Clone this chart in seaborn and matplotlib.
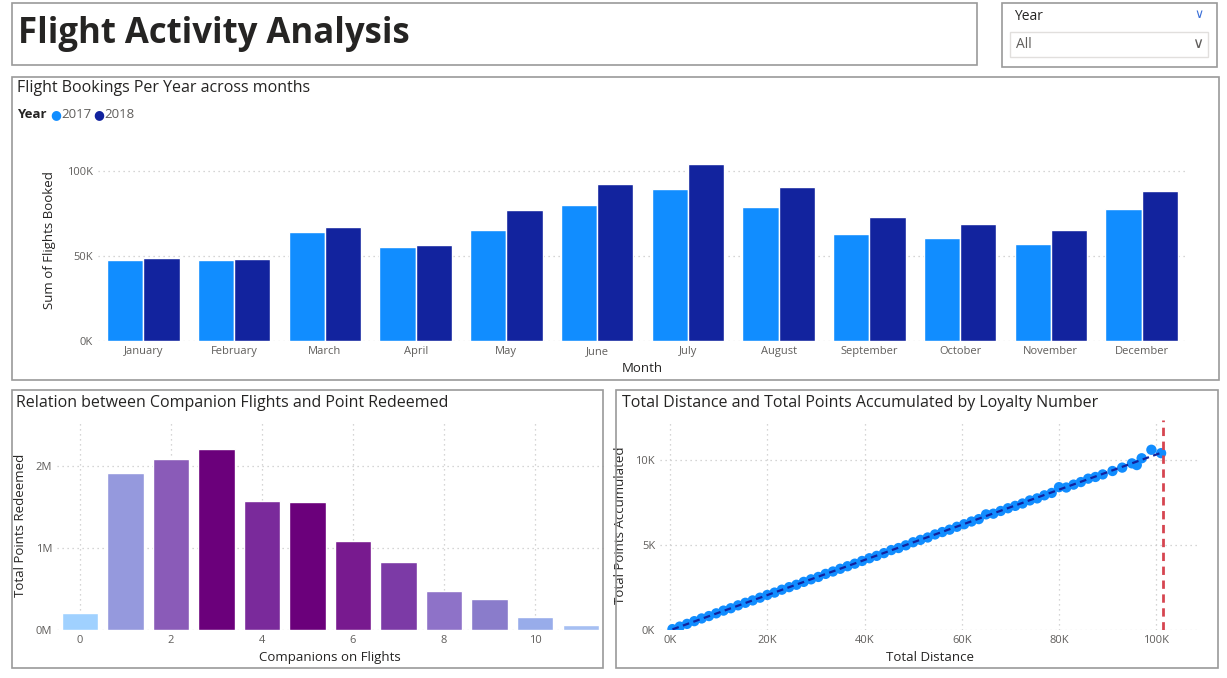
import matplotlib
matplotlib.use("Agg")
import matplotlib.pyplot as plt
import seaborn as sns
import pandas as pd
from matplotlib.patches import Rectangle, FancyBboxPatch
from matplotlib.ticker import FuncFormatter

sns.set_theme(style="white")
plt.rcParams['font.family'] = ['Open Sans', 'DejaVu Sans']

months = ["January","February","March","April","May","June","July","August",
          "September","October","November","December"]
flights_2017 = [47.6, 47.6, 64.1, 55.3, 65.3, 80.0, 89.4, 78.8, 62.9, 60.6, 57.1, 77.6]
flights_2018 = [48.8, 48.2, 67.1, 56.5, 77.1, 92.4, 104.1, 90.6, 72.9, 68.8, 65.3, 88.2]
year_colors = ["#118dff", "#12239e"]

companions = list(range(12))
points_redeemed = [0.21, 1.91, 2.09, 2.21, 1.57, 1.56, 1.09, 0.83, 0.48, 0.38, 0.16, 0.06]
comp_colors = ["#a0d1ff", "#9599dd", "#8a5bb8", "#6b007b", "#7a2a9b", "#6b007b",
               "#781a8f", "#7c3aa6", "#8e72c8", "#8a7ccb", "#98acea", "#a6bff2"]

distance_k = [0.5, 2, 3.5, 5, 6.5, 8, 9.5, 11, 12.5, 14,
              15.5, 17, 18.5, 20, 21.5, 23, 24.5, 26, 27.5, 29,
              30.5, 32, 33.5, 35, 36.5, 38, 39.5, 41, 42.5, 44,
              45.5, 47, 48.5, 50, 51.5, 53, 54.5, 56, 57.5, 59,
              60.5, 62, 63.5, 65, 66.5, 68, 69.5, 71, 72.5, 74,
              75.5, 77, 78.5, 80, 81.5, 83, 84.5, 86, 87.5, 89,
              91, 93, 95, 96, 97, 99, 101]
points_k = [0.05, 0.2, 0.36, 0.52, 0.68, 0.82, 0.98, 1.14, 1.28, 1.45,
            1.6, 1.74, 1.9, 2.06, 2.2, 2.37, 2.52, 2.66, 2.83, 2.98,
            3.12, 3.3, 3.44, 3.6, 3.75, 3.9, 4.06, 4.22, 4.36, 4.52,
            4.7, 4.82, 4.98, 5.16, 5.3, 5.44, 5.62, 5.76, 5.9, 6.07,
            6.22, 6.38, 6.52, 6.8, 6.84, 7.0, 7.16, 7.3, 7.44, 7.62,
            7.74, 7.92, 8.06, 8.4, 8.38, 8.55, 8.7, 8.9, 9.0, 9.15,
            9.35, 9.55, 9.8, 9.7, 10.1, 10.6, 10.4]
max_distance_k = 101.4

W, H = 1227, 678
fig = plt.figure(figsize=(W/100, H/100), dpi=100)
fig.patch.set_facecolor("white")

def axp(l, t, r, b):
    return fig.add_axes([l/W, 1-b/H, (r-l)/W, (b-t)/H])

def box(l, t, r, b):
    fig.patches.append(Rectangle((l/W, 1-b/H), (r-l)/W, (b-t)/H, transform=fig.transFigure,
                                 fill=False, edgecolor="#9a9a9a", linewidth=1.2))

def ftext(x, y, s, **kw):
    fig.text(x/W, 1-y/H, s, **kw)

txt = "#252423"
grid_kw = dict(color="#c8c8c8", linestyle=(0, (1, 3)), linewidth=0.9)

# Title and slicer
box(12, 3, 977, 65)
ftext(18, 34, "Flight Activity Analysis", fontsize=25, fontweight="bold", color=txt, va="center")
box(1002, 3, 1217, 67)
ftext(1014, 17, "Year", fontsize=10, color=txt, va="center")
ftext(1016, 45, "All", fontsize=10, color="#605e5c", va="center")
fig.patches.append(Rectangle((1010/W, 1-57/H), 198/W, 25/H, transform=fig.transFigure,
                             fill=False, edgecolor="#e1dfdd", linewidth=1))
ftext(1199, 15, "\u2228", fontsize=9, color="#3a6fd8", va="center", ha="center")
ftext(1198, 45, "\u2228", fontsize=11, color="#605e5c", va="center", ha="center")

# Top chart
box(12, 77, 1219, 380)
ftext(17, 88, "Flight Bookings Per Year across months", fontsize=11.5, color=txt, va="center")
ftext(17, 115, "Year", fontsize=9.5, fontweight="bold", color=txt, va="center")
ftext(50, 115, "\u25CF", fontsize=9, color=year_colors[0], va="center")
ftext(61, 115, "2017", fontsize=9.5, color="#605e5c", va="center")
ftext(93, 115, "\u25CF", fontsize=9, color=year_colors[1], va="center")
ftext(104, 115, "2018", fontsize=9.5, color="#605e5c", va="center")

df = pd.DataFrame({"Month": months*2,
                   "Flights": flights_2017 + flights_2018,
                   "Year": ["2017"]*12 + ["2018"]*12})
ax1 = axp(98, 140, 1187, 341)
sns.barplot(data=df, x="Month", y="Flights", hue="Year", palette=year_colors,
            ax=ax1, legend=False, saturation=1, width=0.8)
ax1.set_xlim(-0.5, 11.5)
ax1.set_ylim(0, 118)
ax1.set_yticks([0, 50, 100])
ax1.yaxis.set_major_formatter(FuncFormatter(lambda v, p: f"{int(v)}K"))
ax1.grid(axis="y", **grid_kw)
ax1.set_axisbelow(True)
ax1.set_xlabel("Month", fontsize=9.5, color=txt, labelpad=4)
ax1.set_ylabel("Sum of Flights Booked", fontsize=9.5, color=txt, labelpad=8)
ax1.tick_params(axis="both", labelsize=8, colors="#605e5c", length=0)
for s in ax1.spines.values():
    s.set_visible(False)

# Bottom-left chart
box(12, 390, 603, 668)
ftext(16, 403, "Relation between Companion Flights and Point Redeemed", fontsize=11.5, color=txt, va="center")
dfc = pd.DataFrame({"Companions": companions, "Points": points_redeemed})
ax2 = axp(57, 420, 603.5, 630)
sns.barplot(data=dfc, x="Companions", y="Points", hue="Companions", palette=comp_colors,
            ax=ax2, legend=False, saturation=1, width=0.8)
ax2.set_xlim(-0.5, 11.5)
ax2.set_ylim(0, 2.56)
ax2.set_yticks([0, 1, 2])
ax2.set_xticks([0, 2, 4, 6, 8, 10])
ax2.set_xticklabels(["0", "2", "4", "6", "8", "10"])
ax2.yaxis.set_major_formatter(FuncFormatter(lambda v, p: f"{int(v)}M"))
ax2.grid(axis="both", **grid_kw)
ax2.set_axisbelow(True)
ax2.set_xlabel("Companions on Flights", fontsize=9.5, color=txt, labelpad=4)
ax2.set_ylabel("Total Points Redeemed", fontsize=9.5, color=txt, labelpad=6)
ax2.tick_params(axis="both", labelsize=8, colors="#605e5c", length=0)
for s in ax2.spines.values():
    s.set_visible(False)

# Bottom-right scatter
box(616, 390, 1218, 668)
ftext(622, 403, "Total Distance and Total Points Accumulated by Loyalty Number", fontsize=11.5, color=txt, va="center")
dfs = pd.DataFrame({"Distance": distance_k, "Points": points_k})
ax3 = axp(660, 420, 1200, 630)
sns.scatterplot(data=dfs, x="Distance", y="Points", ax=ax3, color="#118dff", s=55,
                edgecolor="none", zorder=3)
sns.regplot(data=dfs, x="Distance", y="Points", ax=ax3, scatter=False, ci=None,
            line_kws=dict(color="#12239e", linestyle=(0, (3, 2)), linewidth=1.6, zorder=4))
ax3.axvline(max_distance_k, color="#d64550", linestyle=(0, (3, 2)), linewidth=2, zorder=5)
ax3.set_xlim(-2.06, 109)
ax3.set_ylim(0, 12.35)
ax3.set_xticks([0, 20, 40, 60, 80, 100])
ax3.set_yticks([0, 5, 10])
ax3.xaxis.set_major_formatter(FuncFormatter(lambda v, p: f"{int(v)}K"))
ax3.yaxis.set_major_formatter(FuncFormatter(lambda v, p: f"{int(v)}K"))
ax3.grid(axis="both", **grid_kw)
ax3.set_axisbelow(True)
ax3.set_xlabel("Total Distance", fontsize=9.5, color=txt, labelpad=4)
ax3.set_ylabel("Total Points Accumulated", fontsize=9.5, color=txt, labelpad=6)
ax3.tick_params(axis="both", labelsize=8, colors="#605e5c", length=0)
for s in ax3.spines.values():
    s.set_visible(False)

fig.savefig("out.png", dpi=100)
